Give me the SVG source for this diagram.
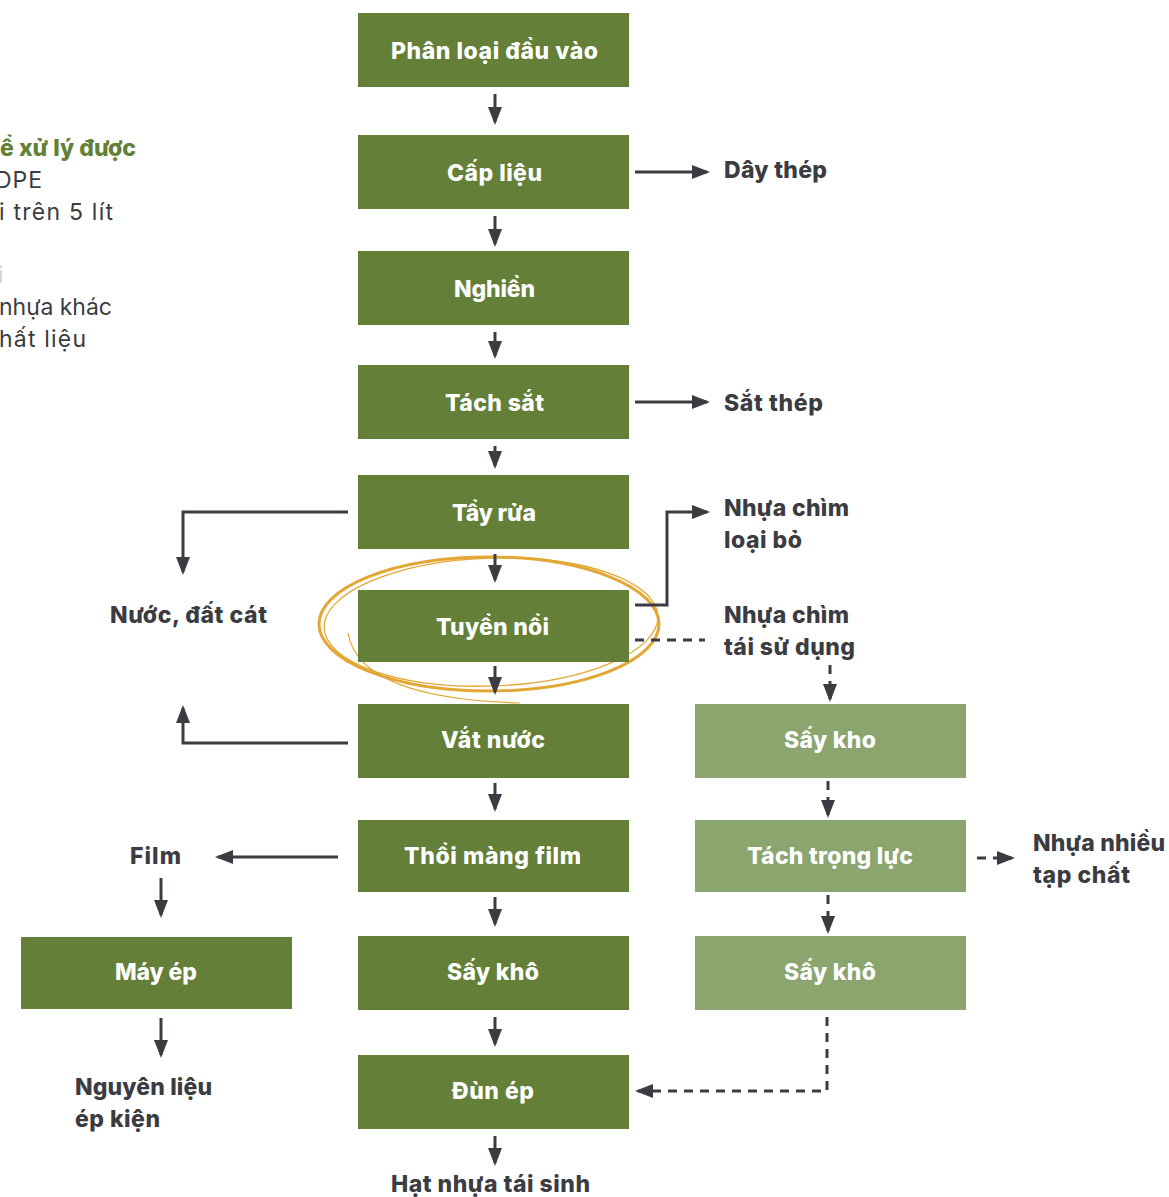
<svg xmlns="http://www.w3.org/2000/svg" width="1169" height="1197" viewBox="0 0 1169 1197">
<defs>
<style>
.box{fill:#637f38}
.box2{fill:#8ba56f}
.bl{font-family:Inter,"Liberation Sans",sans-serif;font-weight:800;font-size:23px;fill:#ffffff}
.lab{font-family:Inter,"Liberation Sans",sans-serif;font-weight:800;font-size:23px;fill:#3b3c42}
.note{font-family:Inter,"Liberation Sans",sans-serif;font-weight:400;font-size:23px;fill:#3b3c42}
.ln{fill:none;stroke:#3b3c42;stroke-width:3}
.dl{fill:none;stroke:#3b3c42;stroke-width:3;stroke-dasharray:9 7}
</style>
<marker id="ah" markerUnits="userSpaceOnUse" markerWidth="18" markerHeight="14" refX="15" refY="7" orient="auto">
<path d="M0,0 L18,7 L0,14 Z" fill="#3b3c42"/>
</marker>
</defs>
<rect width="1169" height="1197" fill="#ffffff"/>

<g id="legend">
<text class="lab" x="0" y="156" textLength="136" lengthAdjust="spacing" style="fill:#637f38">ể xử lý được</text>
<text class="note" x="-5" y="188" textLength="47" lengthAdjust="spacing">DPE</text>
<text class="note" x="-1" y="220" textLength="114" lengthAdjust="spacing">i trên 5 lít</text>
<text class="note" x="-2" y="283" style="fill:#d4d4d6">i</text>
<text class="note" x="-1" y="315" textLength="113" lengthAdjust="spacing">nhựa khác</text>
<text class="note" x="-1" y="347" textLength="87" lengthAdjust="spacing">hất liệu</text>
</g>

<g id="highlight" fill="none" stroke="#e2a734">
<ellipse cx="489" cy="624" rx="170" ry="67" stroke-width="3"/>
<ellipse cx="491" cy="622" rx="167" ry="64" stroke-width="1.3" transform="rotate(-2 491 622)"/>
<path d="M348,633 C356,680 420,700 520,703" stroke-width="1.2"/>
</g>

<g id="connectors">
<line class="ln" x1="495" y1="94" x2="495" y2="122" marker-end="url(#ah)"/>
<line class="ln" x1="495" y1="216" x2="495" y2="244" marker-end="url(#ah)"/>
<line class="ln" x1="495" y1="332" x2="495" y2="356" marker-end="url(#ah)"/>
<line class="ln" x1="495" y1="446" x2="495" y2="466" marker-end="url(#ah)"/>
<line class="ln" x1="495" y1="554" x2="495" y2="580" marker-end="url(#ah)"/>
<line class="ln" x1="495" y1="666" x2="495" y2="692" marker-end="url(#ah)"/>
<line class="ln" x1="495" y1="783" x2="495" y2="809" marker-end="url(#ah)"/>
<line class="ln" x1="495" y1="897" x2="495" y2="924" marker-end="url(#ah)"/>
<line class="ln" x1="495" y1="1017" x2="495" y2="1044" marker-end="url(#ah)"/>
<line class="ln" x1="495" y1="1136" x2="495" y2="1163" marker-end="url(#ah)"/>
<line class="ln" x1="635" y1="172" x2="707" y2="172" marker-end="url(#ah)"/>
<line class="ln" x1="635" y1="402" x2="707" y2="402" marker-end="url(#ah)"/>
<polyline class="ln" points="348,512 183,512 183,572" marker-end="url(#ah)"/>
<polyline class="ln" points="348,743 183,743 183,708" marker-end="url(#ah)"/>
<polyline class="ln" points="635,605 667,605 667,512 707,512" marker-end="url(#ah)"/>
<line class="dl" x1="635" y1="640" x2="705" y2="640"/>
<line class="dl" x1="830" y1="665" x2="830" y2="699" marker-end="url(#ah)"/>
<line class="dl" x1="828" y1="781" x2="828" y2="815" marker-end="url(#ah)"/>
<line class="dl" x1="828" y1="895" x2="828" y2="931" marker-end="url(#ah)"/>
<line class="dl" x1="977" y1="858" x2="1012" y2="858" marker-end="url(#ah)"/>
<polyline class="dl" points="827,1017 827,1091 638,1091" marker-end="url(#ah)"/>
<line class="ln" x1="338" y1="857" x2="218" y2="857" marker-end="url(#ah)"/>
<line class="ln" x1="161" y1="878" x2="161" y2="915" marker-end="url(#ah)"/>
<line class="ln" x1="161" y1="1018" x2="161" y2="1055" marker-end="url(#ah)"/>
</g>

<g id="n1"><rect class="box" x="358" y="13" width="271" height="74"/><text class="bl" x="391" y="59" textLength="207" lengthAdjust="spacing">Phân loại đầu vào</text></g>
<g id="n2"><rect class="box" x="358" y="135" width="271" height="74"/><text class="bl" x="447" y="181" textLength="95" lengthAdjust="spacing">Cấp liệu</text></g>
<g id="n3"><rect class="box" x="358" y="251" width="271" height="74"/><text class="bl" x="454" y="297" textLength="81" lengthAdjust="spacing">Nghiền</text></g>
<g id="n4"><rect class="box" x="358" y="365" width="271" height="74"/><text class="bl" x="445" y="411" textLength="99" lengthAdjust="spacing">Tách sắt</text></g>
<g id="n5"><rect class="box" x="358" y="475" width="271" height="74"/><text class="bl" x="452" y="521" textLength="84" lengthAdjust="spacing">Tẩy rửa</text></g>
<g id="n6"><rect class="box" x="358" y="590" width="271" height="72"/><text class="bl" x="436" y="635" textLength="113" lengthAdjust="spacing">Tuyển nổi</text></g>
<g id="n7"><rect class="box" x="358" y="704" width="271" height="74"/><text class="bl" x="441" y="748" textLength="104" lengthAdjust="spacing">Vắt nước</text></g>
<g id="n8"><rect class="box" x="358" y="820" width="271" height="72"/><text class="bl" x="404" y="864" textLength="177" lengthAdjust="spacing">Thổi màng film</text></g>
<g id="n9"><rect class="box" x="358" y="936" width="271" height="74"/><text class="bl" x="447" y="980" textLength="92" lengthAdjust="spacing">Sấy khô</text></g>
<g id="n10"><rect class="box" x="358" y="1055" width="271" height="74"/><text class="bl" x="452" y="1099" textLength="82" lengthAdjust="spacing">Đùn ép</text></g>
<g id="n11"><rect class="box2" x="695" y="704" width="271" height="74"/><text class="bl" x="784" y="748" textLength="92" lengthAdjust="spacing">Sấy kho</text></g>
<g id="n12"><rect class="box2" x="695" y="820" width="271" height="72"/><text class="bl" x="747" y="864" textLength="166" lengthAdjust="spacing">Tách trọng lực</text></g>
<g id="n13"><rect class="box2" x="695" y="936" width="271" height="74"/><text class="bl" x="784" y="980" textLength="92" lengthAdjust="spacing">Sấy khô</text></g>
<g id="n14"><rect class="box" x="21" y="937" width="271" height="72"/><text class="bl" x="115" y="980" textLength="82" lengthAdjust="spacing">Máy ép</text></g>

<g id="labels">
<text class="lab" x="724" y="178" textLength="103" lengthAdjust="spacing">Dây thép</text>
<text class="lab" x="724" y="411" textLength="99" lengthAdjust="spacing">Sắt thép</text>
<text class="lab" x="724" y="516" textLength="125" lengthAdjust="spacing">Nhựa chìm</text>
<text class="lab" x="724" y="548" textLength="78" lengthAdjust="spacing">loại bỏ</text>
<text class="lab" x="724" y="623" textLength="125" lengthAdjust="spacing">Nhựa chìm</text>
<text class="lab" x="724" y="655" textLength="131" lengthAdjust="spacing">tái sử dụng</text>
<text class="lab" x="110" y="623" textLength="157" lengthAdjust="spacing">Nước, đất cát</text>
<text class="lab" x="1033" y="851" textLength="132" lengthAdjust="spacing">Nhựa nhiều</text>
<text class="lab" x="1033" y="883" textLength="97" lengthAdjust="spacing">tạp chất</text>
<text class="lab" x="130" y="864" textLength="51" lengthAdjust="spacing">Film</text>
<text class="lab" x="75" y="1095" textLength="137" lengthAdjust="spacing">Nguyên liệu</text>
<text class="lab" x="75" y="1127" textLength="85" lengthAdjust="spacing">ép kiện</text>
<text class="lab" x="391" y="1192" textLength="199" lengthAdjust="spacing">Hạt nhựa tái sinh</text>
</g>
</svg>
